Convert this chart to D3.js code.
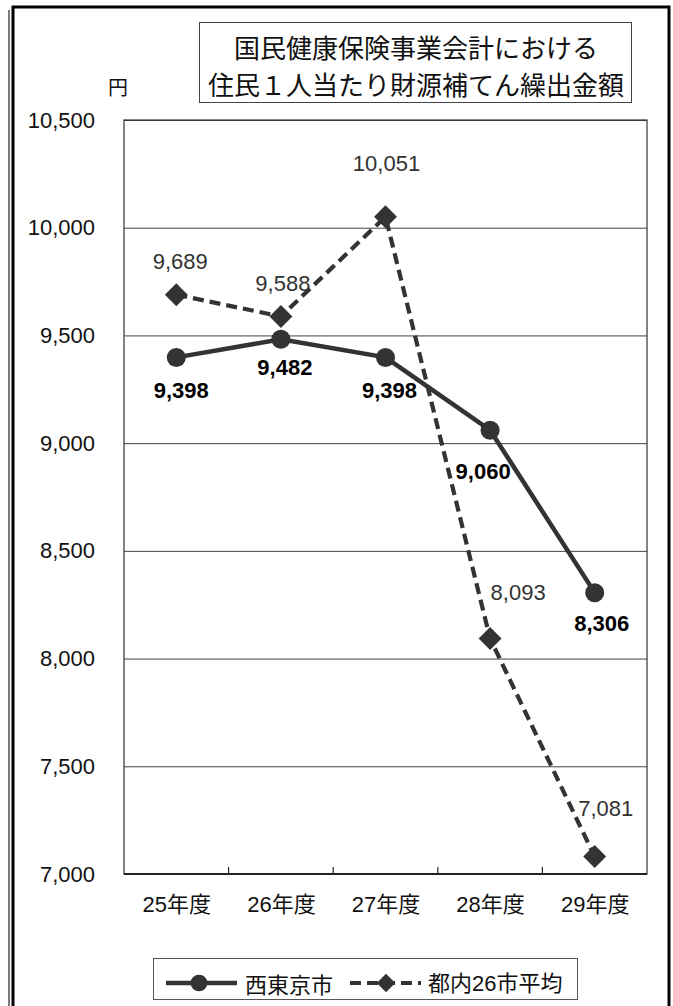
<!DOCTYPE html>
<html>
<head>
<meta charset="utf-8">
<script src="https://cdn.jsdelivr.net/npm/d3@7"></script>
<style>
  html, body { margin: 0; padding: 0; background: #fff; }
  svg { display: block; }
  text { font-family: "Liberation Sans", Arial, "Noto Sans CJK JP", sans-serif; }
  .jp { font-family: "Noto Sans CJK JP", "Liberation Sans", sans-serif; }
</style>
</head>
<body>
<svg id="chart" width="673" height="1006"></svg>
<script>
// 年度
const categories = ["25年度", "26年度", "27年度", "28年度", "29年度"];
// 西東京市（円）
const nishitokyo = [9398, 9482, 9398, 9060, 8306];
// 都内26市平均（円）
const tonai26 = [9689, 9588, 10051, 8093, 7081];
// 縦軸目盛
const yTicks = [7000, 7500, 8000, 8500, 9000, 9500, 10000, 10500];
const seriesNames = ["西東京市", "都内26市平均"];
const titleLines = ["国民健康保険事業会計における", "住民１人当たり財源補てん繰出金額"];
const unitLabel = "円";

const svg = d3.select("#chart");
const ink = "#333";

// 外枠
svg.append("line").attr("x1", 9).attr("x2", 9).attr("y1", 10).attr("y2", 1006)
  .attr("stroke", "#222").attr("stroke-width", 1.2);
svg.append("rect").attr("x", 13).attr("y", 7).attr("width", 656).attr("height", 1010)
  .attr("fill", "none").attr("stroke", "#000").attr("stroke-width", 3);

const plot = { left: 124, right: 647, top: 120, bottom: 874 };

const x = d3.scalePoint().domain(categories).range([plot.left, plot.right]).padding(0.5);
const band = d3.scaleBand().domain(categories).range([plot.left, plot.right]);
const y = d3.scaleLinear().domain([7000, 10500]).range([plot.bottom, plot.top]);

// 目盛線
const grid = svg.append("g")
  .attr("transform", `translate(${plot.left},0)`)
  .call(d3.axisLeft(y).tickValues(yTicks).tickSize(-(plot.right - plot.left)).tickFormat(""));
grid.select(".domain").remove();
grid.selectAll("line").attr("stroke", "#444").attr("stroke-width", 1);

// プロット枠
svg.append("rect")
  .attr("x", plot.left).attr("y", plot.top)
  .attr("width", plot.right - plot.left).attr("height", plot.bottom - plot.top)
  .attr("fill", "none").attr("stroke", "#333").attr("stroke-width", 1.2);

// 縦軸ラベル
const yAxis = svg.append("g")
  .attr("transform", `translate(${plot.left},0)`)
  .call(d3.axisLeft(y).tickValues(yTicks).tickSize(0).tickPadding(29).tickFormat(d3.format(",")));
yAxis.select(".domain").remove();
yAxis.selectAll("text")
  .attr("font-size", 22).attr("fill", "#111")
  .style("font-family", "'Liberation Sans', Arial, sans-serif");

// 横軸
const xAxis = svg.append("g")
  .attr("transform", `translate(0,${plot.bottom})`)
  .call(d3.axisBottom(x).tickSize(0).tickPadding(22));
xAxis.select(".domain").remove();
xAxis.selectAll("text").attr("font-size", 22).attr("fill", "#111");

svg.append("line")
  .attr("x1", plot.left).attr("x2", plot.right)
  .attr("y1", plot.bottom).attr("y2", plot.bottom)
  .attr("stroke", "#222").attr("stroke-width", 2);

// 区切り目盛（内向き）
svg.append("g").selectAll("line")
  .data(categories.slice(1))
  .join("line")
  .attr("x1", d => band(d)).attr("x2", d => band(d))
  .attr("y1", plot.bottom).attr("y2", plot.bottom - 7)
  .attr("stroke", "#222").attr("stroke-width", 1.2);

// 単位
svg.append("text").attr("class", "jp")
  .attr("x", 118).attr("y", 86)
  .attr("text-anchor", "middle").attr("dominant-baseline", "central")
  .attr("font-size", 20).attr("fill", "#111").text(unitLabel);

// 表題
svg.append("rect")
  .attr("x", 199.5).attr("y", 22.5).attr("width", 432).attr("height", 80)
  .attr("fill", "#fff").attr("stroke", "#444").attr("stroke-width", 1);
svg.append("g").selectAll("text")
  .data(titleLines)
  .join("text").attr("class", "jp")
  .attr("x", 416).attr("y", (d, i) => 46 + i * 37)
  .attr("text-anchor", "middle").attr("dominant-baseline", "central")
  .attr("font-size", 26).attr("fill", "#111")
  .text(d => d);

// 系列
const lineGen = d3.line().x((d, i) => x(categories[i])).y(d => y(d));
const diamond = d3.symbol().type(d3.symbolSquare).size(262);
const circle = d3.symbol().type(d3.symbolCircle).size(285);

svg.append("path").datum(tonai26)
  .attr("d", lineGen).attr("fill", "none")
  .attr("stroke", ink).attr("stroke-width", 4.2)
  .attr("stroke-dasharray", "11,6");
svg.append("path").datum(nishitokyo)
  .attr("d", lineGen).attr("fill", "none")
  .attr("stroke", ink).attr("stroke-width", 4.5);

svg.append("g").selectAll("path")
  .data(nishitokyo)
  .join("path")
  .attr("d", circle)
  .attr("transform", (d, i) => `translate(${x(categories[i])},${y(d)})`)
  .attr("fill", ink);

svg.append("g").selectAll("path")
  .data(tonai26)
  .join("path")
  .attr("d", diamond)
  .attr("transform", (d, i) => `translate(${x(categories[i])},${y(d)}) rotate(45)`)
  .attr("fill", ink);

// データラベル
const fmt = d3.format(",");
const labelShiftA = [[5, 33.5], [4, 28], [4, 33.5], [-7, 41], [7, 31]];
const labelShiftB = [[4, -33], [2, -33], [1, -53], [28, -46], [11, -48.5]];

svg.append("g").selectAll("text")
  .data(nishitokyo)
  .join("text")
  .attr("x", (d, i) => x(categories[i]) + labelShiftA[i][0])
  .attr("y", (d, i) => y(d) + labelShiftA[i][1])
  .attr("text-anchor", "middle").attr("dominant-baseline", "central")
  .attr("font-size", 22).attr("font-weight", "bold").attr("fill", "#000")
  .text(d => fmt(d));

svg.append("g").selectAll("text")
  .data(tonai26)
  .join("text")
  .attr("x", (d, i) => x(categories[i]) + labelShiftB[i][0])
  .attr("y", (d, i) => y(d) + labelShiftB[i][1])
  .attr("text-anchor", "middle").attr("dominant-baseline", "central")
  .attr("font-size", 22).attr("fill", "#333")
  .text(d => fmt(d));

// 凡例
const legend = svg.append("g");
legend.append("rect")
  .attr("x", 153.5).attr("y", 958.5).attr("width", 424).attr("height", 41)
  .attr("fill", "#fff").attr("stroke", "#555").attr("stroke-width", 1);
const ly = 983;
legend.append("line").attr("x1", 166).attr("x2", 237).attr("y1", ly).attr("y2", ly)
  .attr("stroke", ink).attr("stroke-width", 4.5);
legend.append("path").attr("d", d3.symbol().type(d3.symbolCircle).size(220))
  .attr("transform", `translate(199,${ly})`).attr("fill", ink);
legend.append("text").attr("class", "jp")
  .attr("x", 245).attr("y", ly).attr("dominant-baseline", "central")
  .attr("font-size", 22).attr("fill", "#111").text(seriesNames[0]);
legend.append("line").attr("x1", 350).attr("x2", 421).attr("y1", ly).attr("y2", ly)
  .attr("stroke", ink).attr("stroke-width", 4.2).attr("stroke-dasharray", "11,6");
legend.append("path").attr("d", d3.symbol().type(d3.symbolSquare).size(170))
  .attr("transform", `translate(386,${ly}) rotate(45)`).attr("fill", ink);
legend.append("text")
  .attr("x", 428).attr("y", ly).attr("dominant-baseline", "central")
  .attr("font-size", 22).attr("fill", "#111").text(seriesNames[1]);
</script>
</body>
</html>
